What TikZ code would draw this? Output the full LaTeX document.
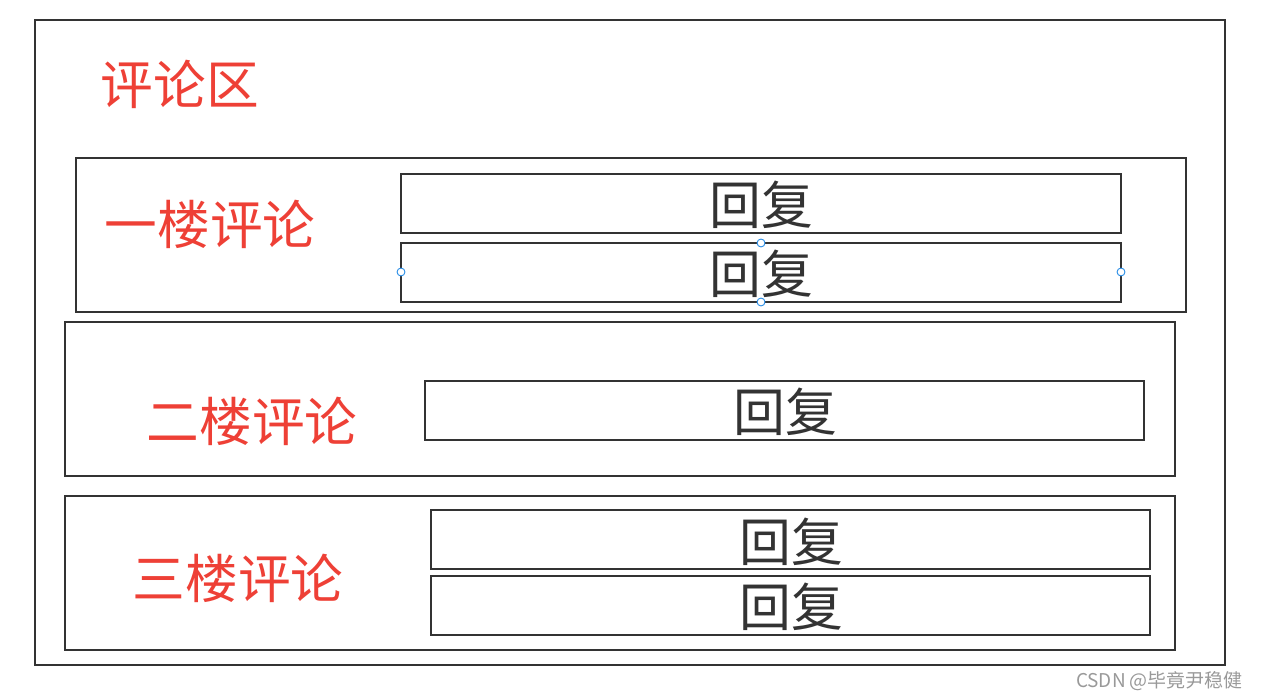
\documentclass[tikz,border=0pt]{standalone}
\usepackage{fontspec}
\setmainfont{Noto Sans CJK SC}
\definecolor{floorred}{RGB}{238,64,54}
\definecolor{boxgray}{RGB}{51,51,51}
\definecolor{handleblue}{RGB}{30,136,229}
\begin{document}
\begin{tikzpicture}[x=0.02cm,y=-0.02cm,
    box/.style={draw=boxgray,line width=1.2pt},
    floor/.style={text=floorred,font=\fontsize{30}{30}\selectfont},
    reply/.style={text=boxgray,font=\fontsize{29.5}{30}\selectfont},
    handle/.style={draw=handleblue,fill=white,line width=0.5pt,circle,inner sep=0pt,minimum size=4.5pt}]
  \useasboundingbox (0,0) rectangle (1262,699);
  % comment area
  \draw[box] (35,20) rectangle (1225,665);
  \node[floor] (area) at (180,84) {评论区};
  % first floor
  \draw[box] (76,158) rectangle (1186,312);
  \node[floor] (f1) at (210,224) {一楼评论};
  \draw[box] (401,174) rectangle (1121,233);
  \node[reply] (r1a) at (761,205) {回复};
  \draw[box] (401,243) rectangle (1121,302);
  \node[reply] (r1b) at (761,274) {回复};
  \node[handle] (ht) at (761,243) {};
  \node[handle] (hl) at (401,272) {};
  \node[handle] (hr) at (1121,272) {};
  \node[handle] (hb) at (761,302) {};
  % second floor
  \draw[box] (65,322) rectangle (1175,476);
  \node[floor] (f2) at (252,421) {二楼评论};
  \draw[box] (425,381) rectangle (1144,440);
  \node[reply] (r2a) at (785,412) {回复};
  % third floor
  \draw[box] (65,496) rectangle (1175,650);
  \node[floor] (f3) at (238,578) {三楼评论};
  \draw[box] (431,510) rectangle (1150,569);
  \node[reply] (r3a) at (791,542) {回复};
  \draw[box] (431,576) rectangle (1150,635);
  \node[reply] (r3b) at (791,607) {回复};
  \node[text=black!40,font=\fontsize{10.8}{11}\selectfont,anchor=east] (mark) at (1249,681) {CSDN @毕竟尹稳健};
\end{tikzpicture}
\end{document}
